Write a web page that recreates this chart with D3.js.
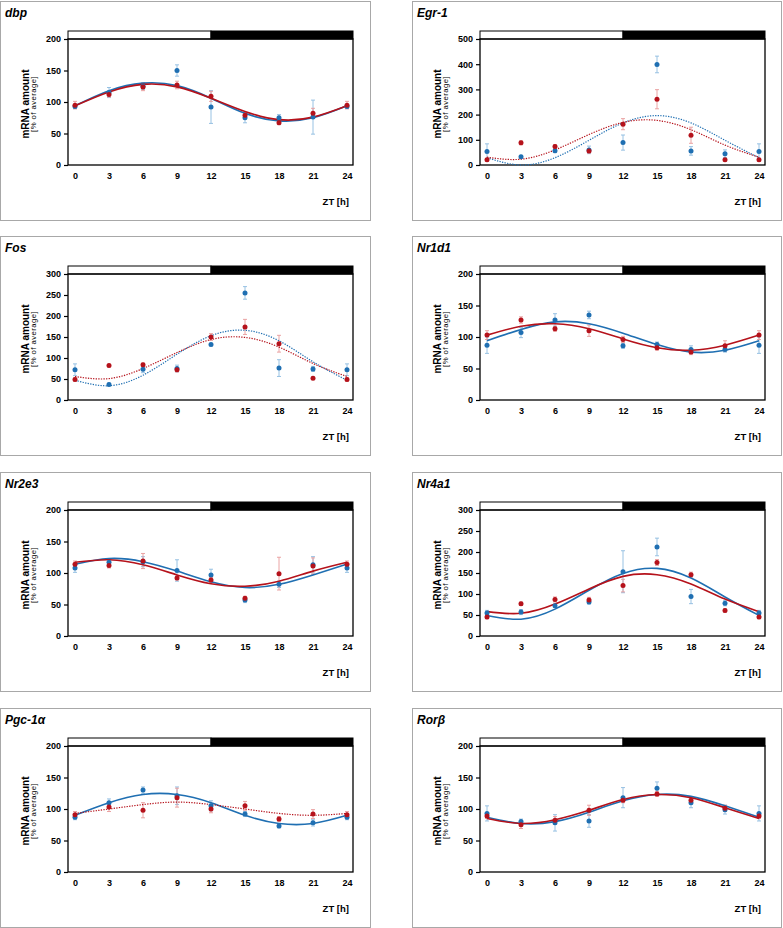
<!DOCTYPE html>
<html>
<head>
<meta charset="utf-8">
<script src="https://cdn.jsdelivr.net/npm/d3@7"></script>
<style>
  body { margin: 0; background: #fff; }
  svg text { font-family: "Liberation Sans", Arial, sans-serif; }
</style>
</head>
<body>
<svg id="chart" width="783" height="928"></svg>
<script>
// sampling times (ZT, hours)
const hours = [0, 3, 6, 9, 12, 15, 18, 21, 24];

const genes = ["dbp", "Egr-1", "Fos", "Nr1d1", "Nr2e3", "Nr4a1", "Pgc-1\u03b1", "Ror\u03b2"];
const yMaxes = [200, 500, 300, 200, 200, 300, 200, 200];

// blue series: mean and error
const blueMean = [
  [93, 115, 125, 150, 92, 75, 75, 76, 93],
  [54, 33, 57, 60, 89, 399, 56, 45, 54],
  [72, 37, 73, 75, 132, 255, 76, 74, 72],
  [87, 107, 127, 135, 86, 88, 80, 80, 87],
  [108, 117, 118, 104, 97, 57, 82, 113, 108],
  [55, 57, 72, 81, 153, 212, 94, 78, 55],
  [87, 110, 130, 121, 105, 92, 73, 78, 87],
  [93, 80, 78, 81, 118, 133, 110, 99, 93]
];
const blueErr = [
  [3, 8, 5, 9, 26, 8, 5, 27, 3],
  [30, 5, 8, 15, 30, 33, 17, 15, 30],
  [14, 3, 8, 8, 3, 15, 20, 6, 14],
  [13, 8, 10, 6, 4, 4, 6, 4, 13],
  [7, 5, 8, 17, 9, 4, 5, 13, 7],
  [6, 6, 4, 5, 50, 21, 17, 6, 6],
  [4, 6, 5, 14, 8, 4, 3, 5, 4],
  [12, 4, 13, 10, 16, 10, 8, 7, 12]
];

// red series: mean and error
const redMean = [
  [95, 112, 124, 127, 109, 79, 67, 82, 95],
  [21, 88, 73, 56, 162, 261, 118, 21, 21],
  [49, 82, 84, 72, 150, 174, 134, 52, 49],
  [103, 127, 113, 110, 96, 83, 76, 86, 103],
  [114, 112, 119, 92, 89, 60, 99, 111, 114],
  [45, 77, 87, 86, 120, 175, 146, 61, 45],
  [91, 103, 98, 118, 100, 105, 84, 92, 91],
  [89, 75, 82, 98, 114, 124, 114, 101, 89]
];
const redErr = [
  [6, 4, 6, 6, 8, 4, 3, 8, 6],
  [5, 8, 8, 8, 22, 38, 32, 4, 5],
  [4, 3, 4, 5, 8, 18, 20, 3, 4],
  [7, 5, 4, 9, 5, 4, 4, 8, 7],
  [5, 4, 12, 3, 4, 3, 26, 13, 5],
  [4, 4, 6, 6, 15, 7, 6, 4, 4],
  [5, 7, 12, 15, 6, 7, 4, 7, 5],
  [4, 6, 6, 8, 4, 4, 5, 5, 4]
];

// fitted curves at the sampling times
const blueFit = [
  [94, 118, 130, 126, 106, 82, 70, 75, 94],
  [29, 0, 29, 98, 167, 196, 167, 98, 29],
  [47, 34, 59, 109, 153, 166, 141, 91, 47],
  [94, 112, 124, 121, 106, 88, 76, 79, 94],
  [114, 123, 118, 103, 86, 77, 82, 97, 114],
  [49, 40, 64, 109, 149, 161, 138, 93, 49],
  [90, 110, 123, 123, 110, 90, 77, 77, 90],
  [87, 77, 80, 95, 113, 123, 120, 105, 87]
];
const redFit = [
  [94, 116, 128, 124, 106, 85, 72, 76, 94],
  [31, 23, 60, 121, 169, 177, 140, 79, 31],
  [56, 51, 75, 113, 144, 149, 126, 87, 56],
  [103, 117, 121, 113, 97, 83, 79, 87, 103],
  [117, 121, 113, 97, 83, 79, 87, 103, 117],
  [58, 54, 76, 112, 142, 146, 124, 88, 58],
  [93, 100, 107, 111, 107, 100, 93, 90, 93],
  [85, 77, 83, 98, 115, 123, 118, 102, 85]
];
const blueDotted = [false, true, true, false, false, false, false, false];
const redDotted = [false, true, true, false, false, false, true, false];

const colX = [0, 412];
const rowY = [0, 235, 471, 707];
const boxW = [370, 369];

const blue = "#1f6fb2", blueLight = "#8dbbe0";
const red = "#b5121b", redLight = "#e89a9a";

const svg = d3.select("#chart");

genes.forEach(function(gene, i) {
    var x0 = colX[i % 2];
    var y0 = rowY[Math.floor(i / 2)];
    var g = svg.append("g");

    // panel box
    g.append("rect")
        .attr("x", x0 + 0.5).attr("y", y0 + 1.5)
        .attr("width", boxW[i % 2]).attr("height", 219)
        .attr("fill", "none").attr("stroke", "#a8a8a8").attr("stroke-width", 1);

    g.append("text")
        .attr("x", x0 + 5).attr("y", y0 + 17)
        .style("font-size", "12px").style("font-weight", "bold").style("font-style", "italic")
        .text(gene);

    var left = x0 + 68, right = x0 + 353, top = y0 + 39, bottom = y0 + 165;

    var x = d3.scaleLinear().domain([0, 24]).range([x0 + 75, x0 + 347]);
    var y = d3.scaleLinear().domain([0, yMaxes[i]]).range([bottom, top]);

    // light / dark bar
    g.append("rect")
        .attr("x", left).attr("y", y0 + 31).attr("width", x(12) - left).attr("height", 8)
        .attr("fill", "#fff").attr("stroke", "#000").attr("stroke-width", 1);
    g.append("rect")
        .attr("x", x(12)).attr("y", y0 + 31).attr("width", right - x(12)).attr("height", 8)
        .attr("fill", "#000").attr("stroke", "#000").attr("stroke-width", 1);

    // plot frame
    g.append("rect")
        .attr("x", left).attr("y", top).attr("width", right - left).attr("height", bottom - top)
        .attr("fill", "none").attr("stroke", "#000").attr("stroke-width", 1.3);

    // y axis
    var step = yMaxes[i] === 500 ? 100 : 50;
    var yAxis = d3.axisLeft(y).tickValues(d3.range(0, yMaxes[i] + 1, step))
        .tickSize(4).tickPadding(3);
    var ya = g.append("g").attr("transform", "translate(" + left + ",0)").call(yAxis);
    ya.select(".domain").remove();
    ya.selectAll("line").attr("stroke", "#000").attr("stroke-width", 1.2);
    ya.selectAll("text").style("font-size", "9px").style("font-weight", "bold").attr("fill", "#000");

    // x axis labels
    var xAxis = d3.axisBottom(x).tickValues(hours).tickSize(0).tickPadding(8);
    var xa = g.append("g").attr("transform", "translate(0," + bottom + ")").call(xAxis);
    xa.select(".domain").remove();
    xa.selectAll("text").style("font-size", "9px").style("font-weight", "bold").attr("fill", "#000");

    g.append("text")
        .attr("x", x0 + 349).attr("y", y0 + 205)
        .attr("text-anchor", "end")
        .style("font-size", "9.5px").style("font-weight", "bold")
        .text("ZT [h]");

    var cy = y0 + 104;
    g.append("text")
        .attr("transform", "translate(" + (x0 + 28.5) + "," + cy + ") rotate(-90)")
        .attr("text-anchor", "middle")
        .style("font-size", "10px").style("font-weight", "bold")
        .text("mRNA amount");
    g.append("text")
        .attr("transform", "translate(" + (x0 + 36) + "," + cy + ") rotate(-90)")
        .attr("text-anchor", "middle")
        .style("font-size", "7.8px").style("letter-spacing", "0.4px")
        .text("[% of average]");

    var line = d3.line()
        .x(function(d, k) { return x(hours[k]); })
        .y(function(d) { return y(d); })
        .curve(d3.curveNatural);

    var series = [
        { mean: blueMean[i], err: blueErr[i], fit: blueFit[i], dotted: blueDotted[i], c: blue, cl: blueLight },
        { mean: redMean[i], err: redErr[i], fit: redFit[i], dotted: redDotted[i], c: red, cl: redLight }
    ];

    // error bars
    series.forEach(function(s) {
        var eb = g.append("g").attr("stroke", s.cl).attr("stroke-width", 0.9);
        s.mean.forEach(function(m, k) {
            var cx = x(hours[k]);
            eb.append("line").attr("x1", cx).attr("x2", cx)
                .attr("y1", y(m - s.err[k])).attr("y2", y(m + s.err[k]));
            eb.append("line").attr("x1", cx - 2).attr("x2", cx + 2)
                .attr("y1", y(m + s.err[k])).attr("y2", y(m + s.err[k]));
            eb.append("line").attr("x1", cx - 2).attr("x2", cx + 2)
                .attr("y1", y(m - s.err[k])).attr("y2", y(m - s.err[k]));
        });
    });

    // fitted curves
    series.forEach(function(s) {
        g.append("path")
            .attr("d", line(s.fit))
            .attr("fill", "none")
            .attr("stroke", s.c)
            .attr("stroke-width", s.dotted ? 1.2 : 1.6)
            .attr("stroke-dasharray", s.dotted ? "1.3,1.3" : null);
    });

    // points
    series.forEach(function(s) {
        g.append("g").selectAll("circle")
            .data(s.mean)
            .enter()
            .append("circle")
            .attr("cx", function(d, k) { return x(hours[k]); })
            .attr("cy", function(d) { return y(d); })
            .attr("r", 2.5)
            .attr("fill", s.c);
    });
});
</script>
</body>
</html>
